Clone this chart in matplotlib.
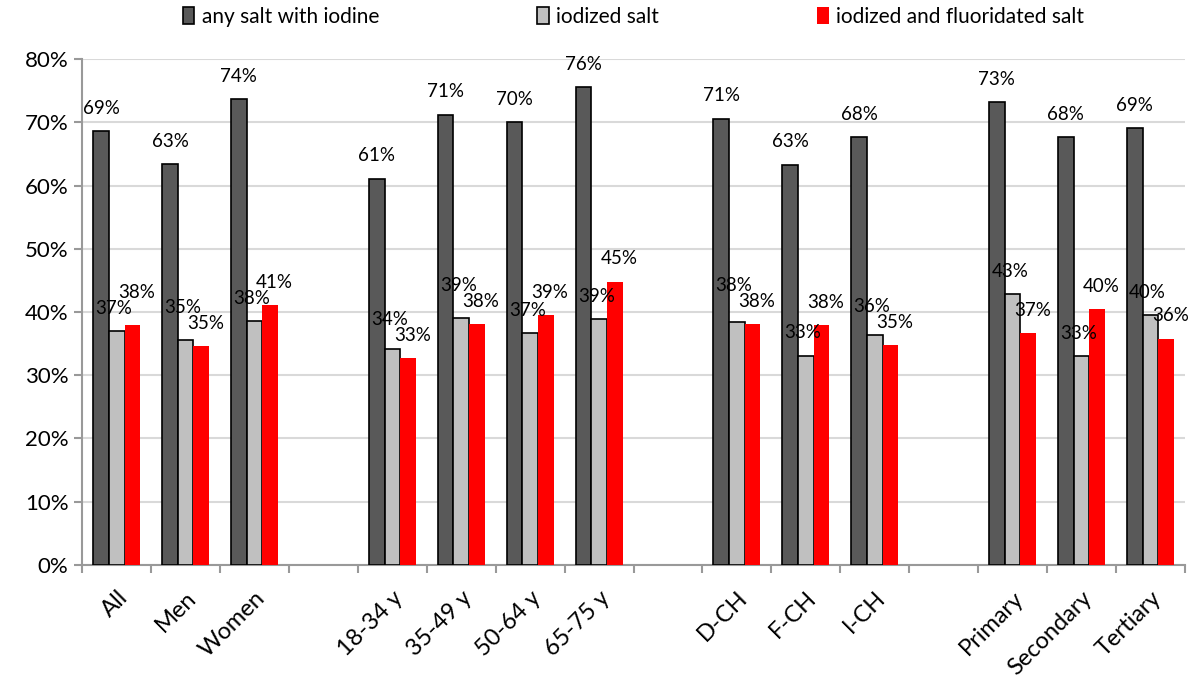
import numpy as np
import matplotlib.pyplot as plt

plt.rcParams['font.family'] = ['Lato', 'DejaVu Sans']

# Gruppen von Kategorien (zwischen den Gruppen bleibt ein leerer Platz)
groups = [
    ["All", "Men", "Women"],
    ["18-34 y", "35-49 y", "50-64 y", "65-75 y"],
    ["D-CH", "F-CH", "I-CH"],
    ["Primary", "Secondary", "Tertiary"],
]

any_iodine = [68.6, 63.4, 73.7, 61.1, 71.2, 70.0, 75.6, 70.6, 63.3, 67.6, 73.2, 67.6, 69.1]
iodized = [37.0, 35.5, 38.5, 34.1, 39.1, 36.7, 38.9, 38.4, 33.1, 36.4, 42.8, 33.0, 39.5]
iod_fluor = [37.9, 34.6, 41.1, 32.7, 38.1, 39.5, 44.8, 38.1, 37.9, 34.8, 36.7, 40.5, 35.8]
labels_any = ["69%", "63%", "74%", "61%", "71%", "70%", "76%", "71%", "63%", "68%", "73%", "68%", "69%"]
labels_iod = ["37%", "35%", "38%", "34%", "39%", "37%", "39%", "38%", "33%", "36%", "43%", "33%", "40%"]
labels_fl = ["38%", "35%", "41%", "33%", "38%", "39%", "45%", "38%", "38%", "35%", "37%", "40%", "36%"]

# Positionen berechnen (leerer Platz zwischen Gruppen)
categories = []
x = []
pos = 0
for g in groups:
    for c in g:
        categories.append(c)
        x.append(pos)
        pos += 1
    pos += 1
x = np.array(x, dtype=float)
n_slots = pos - 1

fig = plt.figure(figsize=(11.92, 6.79), dpi=100)
ax = fig.add_axes([0.069, 0.168, 0.925, 0.745])

w = 0.227
ax.bar(x - w, any_iodine, width=w, color="#595959", edgecolor="black", linewidth=1.2,
       label="any salt with iodine", zorder=3)
ax.bar(x, iodized, width=w, color="#c0c0c0", edgecolor="black", linewidth=1.2,
       label="iodized salt", zorder=3)
ax.bar(x + w, iod_fluor, width=w, color="#ff0000", edgecolor="none",
       label="iodized and fluoridated salt", zorder=3)

# Beschriftungen: Hoehe der Labels in Daten-Einheiten, bei Kollision stapeln
pad = 3.6
text_h = 2.5
for i in range(len(x)):
    ax.text(x[i] - w, any_iodine[i] + pad, labels_any[i], ha='center', va='center', fontsize=13.5, zorder=5)
    y_g = iodized[i] + pad
    y_r = iod_fluor[i] + pad
    if abs(y_g - y_r) < text_h:
        if iod_fluor[i] >= iodized[i]:
            y_r = y_g + text_h
        else:
            y_g = y_r + text_h
    ax.annotate(labels_iod[i], (x[i], y_g), xytext=(-2, 0), textcoords='offset points',
                ha='center', va='center', fontsize=13.5, zorder=5)
    ax.annotate(labels_fl[i], (x[i] + w, y_r), xytext=(3, 0), textcoords='offset points',
                ha='center', va='center', fontsize=13.5, zorder=5)

ax.set_xlim(-0.5, n_slots - 0.5)
ax.set_ylim(0, 80)
ax.set_yticks(np.arange(0, 81, 10))
ax.set_yticklabels([f"{v}%" for v in range(0, 81, 10)], fontsize=16)
ax.yaxis.grid(True, color='#d9d9d9', linewidth=1.5, zorder=0)
ax.set_axisbelow(True)

ax.set_xticks(x)
ax.set_xticklabels(categories, rotation=45, ha='right', rotation_mode='anchor', fontsize=17)
ax.set_xticks(np.arange(-0.5, n_slots, 1.0), minor=True)
ax.tick_params(axis='x', which='major', length=0, pad=16)
ax.tick_params(axis='x', which='minor', length=6, color='#999999', width=1.5)
ax.tick_params(axis='y', length=6, color='#999999', width=1.5, pad=4)

for s in ['top', 'right']:
    ax.spines[s].set_visible(False)
for s in ['left', 'bottom']:
    ax.spines[s].set_color('#999999')
    ax.spines[s].set_linewidth(1.5)

ax.legend(loc='lower center', bbox_to_anchor=(0.5, 1.035), ncol=3, frameon=False,
          fontsize=15, handlelength=0.55, handleheight=0.9, handletextpad=0.35,
          columnspacing=7.6, borderaxespad=0.3)

fig.savefig("out.png", dpi=100)
